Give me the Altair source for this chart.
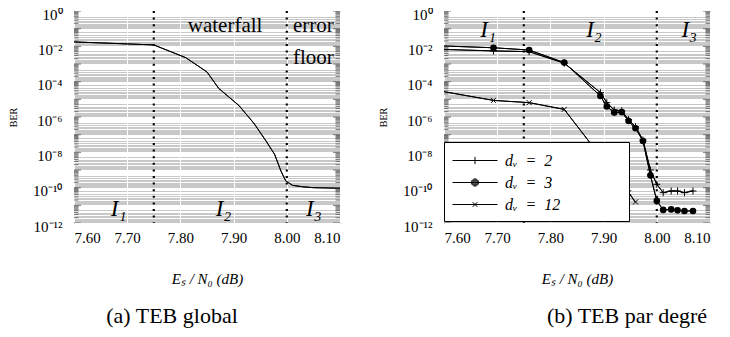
import altair as alt
import pandas as pd

SERIF = "Liberation Serif"

# ---------------- data ----------------
# (a) TEB global
glob_x = [7.60, 7.75, 7.81, 7.85, 7.872, 7.91, 7.938, 7.961, 7.977, 7.989, 7.998, 8.011, 8.03, 8.05, 8.10]
glob_ber = [1.78e-2, 1.20e-2, 2.29e-3, 3.55e-4, 4.17e-5, 4.47e-6, 4.47e-7, 4.37e-8, 7.76e-9,
            8.71e-10, 2.40e-10, 1.35e-10, 1.12e-10, 1.00e-10, 9.3e-11]

# (b) TEB par degré
dv_x = [7.56, 7.693, 7.760, 7.826, 7.894, 7.906, 7.920, 7.934, 7.947, 7.960, 7.974, 7.988,
        8.000, 8.012, 8.027, 8.039, 8.052, 8.068]
dv3_ber = [1.15e-2, 8.3e-3, 6.2e-3, 1.2e-3, 1.55e-5, 3.9e-6, 1.78e-6, 1.9e-6, 5.9e-7, 2.3e-7,
           4.4e-8, 5.0e-10, 1.78e-11, 5.5e-12, 5.9e-12, 5.2e-12, 4.8e-12, 4.8e-12]
dv2_ber = [7.2e-3, 5.5e-3, 5.0e-3, 1.12e-3, 2.4e-5, 6.5e-6, 2.5e-6, 2.24e-6, 7.1e-7, 2.8e-7,
           5.0e-8, 1.0e-9, 1.55e-10, 5.2e-11, 6.5e-11, 6.5e-11, 5.2e-11, 6.5e-11]
dv12_x = [7.56, 7.693, 7.760, 7.826, 7.947, 7.960]
dv12_ber = [4.4e-5, 8.7e-6, 6.5e-6, 2.7e-6, 5.2e-11, 1.55e-11]

series_names = ["dᵥ\u2002=\u20022", "dᵥ\u2002=\u20023", "dᵥ\u2002=\u200212"]
legend_labels = [s + "\u2800" * 5 for s in series_names]
region_bounds = [7.75, 8.00]

x_ticks = [7.60, 7.70, 7.80, 7.90, 8.00, 8.10]
y_grid = [1.0] + [m * 10.0 ** k for k in range(-1, -13, -1) for m in range(9, 0, -1)]
y_major = [10.0 ** k for k in range(0, -13, -1)]
y_minor = [m * 10.0 ** k for k in range(-1, -13, -1) for m in range(2, 10)]
edge_x = [7.6, 8.1]

# annotations
glob_center_text = pd.DataFrame({"x": [7.884], "y": [0.141], "t": ["waterfall"]})
glob_left_text = pd.DataFrame({"x": [8.0115, 8.0115], "y": [0.141, 2.3e-3], "t": ["error", "floor"]})
glob_regions = pd.DataFrame({"x": [7.684, 7.881, 8.051], "y": [6.6e-12, 6.6e-12, 6.6e-12],
                             "t": ["I₁", "I₂", "I₃"]})
dv_regions = pd.DataFrame({"x": [7.683, 7.882, 8.061], "y": [0.085, 0.085, 0.085],
                           "t": ["I₁", "I₂", "I₃"]})

# ---------------- scales / axes ----------------
xs = alt.Scale(domain=[7.6, 8.1], nice=False, zero=False)
ys = alt.Scale(type="log", domain=[1e-12, 1], nice=False)

label_expr = (
    "abs(log(datum.value)/LN10 - round(log(datum.value)/LN10)) < 0.001 && "
    "round(log(datum.value)/LN10) % 2 == 0 ? "
    "(round(log(datum.value)/LN10) == 0 ? '10⁰' : '10⁻' + "
    "replace(replace(replace(replace(replace(replace(format(-round(log(datum.value)/LN10), 'd'),"
    "'1','¹'),'0','⁰'),'2','²'),'4','⁴'),'6','⁶'),'8','⁸')) : ''"
)

x_axis = alt.Axis(values=x_ticks, format=".2f", grid=True, gridColor="white", gridWidth=1,
                  ticks=False, domain=False, labelFont=SERIF, labelFontSize=15, labelPadding=7,
                  labelColor="black", title="Eₛ / N₀ (dB)", titleFont=SERIF, titleFontSize=15,
                  titleFontWeight="normal", titleFontStyle="italic", titlePadding=26,
                  titleColor="black")
y_axis = alt.Axis(values=y_grid, labelExpr=label_expr, labelOverlap=False, grid=True,
                  gridColor="white", gridWidth=1, ticks=False, domain=False, labelFont=SERIF,
                  labelFontSize=15, labelPadding=12, labelOffset=3, labelColor="black",
                  title="BER", titleFont=SERIF, titleFontSize=10, titleFontWeight="normal",
                  titlePadding=14, titleColor="black")


def rules():
    return alt.Chart(pd.DataFrame({"x": region_bounds})).mark_rule(
        color="black", strokeDash=[2, 4.6], strokeWidth=2.2
    ).encode(x=alt.X("x:Q", scale=xs, axis=x_axis))


def edge_ticks(values, length):
    df = pd.DataFrame([{"x": ex, "y": v} for ex in edge_x for v in values])
    return alt.Chart(df).mark_tick(color="#707070", thickness=1, size=length, orient="horizontal",
                                   clip=True, opacity=1).encode(
        x=alt.X("x:Q", scale=xs), y=alt.Y("y:Q", scale=ys))


def text_layer(df, align, size, style):
    return alt.Chart(df).mark_text(font=SERIF, fontSize=size, fontStyle=style, align=align,
                                   baseline="middle", color="black").encode(
        x=alt.X("x:Q", scale=xs), y=alt.Y("y:Q", scale=ys), text="t:N")


# ---------------- panel (a) ----------------
gdf = pd.DataFrame({"x": glob_x, "y": glob_ber})
g_line = alt.Chart(gdf).mark_line(color="black", strokeWidth=1, clip=True).encode(
    x=alt.X("x:Q", scale=xs, axis=x_axis), y=alt.Y("y:Q", scale=ys, axis=y_axis))

panel_a = alt.layer(
    g_line, edge_ticks(y_minor, 9), edge_ticks(y_major, 14), rules(), g_line,
    text_layer(glob_center_text, "center", 21, "normal"),
    text_layer(glob_left_text, "left", 21, "normal"),
    text_layer(glob_regions, "center", 23, "italic"),
).properties(
    width=266, height=212,
    title=alt.TitleParams("(a)  TEB global", orient="bottom", font=SERIF, fontSize=22,
                          fontWeight="normal", color="black", offset=20, dx=-35))

# ---------------- panel (b) ----------------
rows = []
for x, b in zip(dv_x, dv2_ber):
    rows.append({"x": x, "y": b, "s": series_names[0]})
for x, b in zip(dv_x, dv3_ber):
    rows.append({"x": x, "y": b, "s": series_names[1]})
for x, b in zip(dv12_x, dv12_ber):
    rows.append({"x": x, "y": b, "s": series_names[2]})
ddf = pd.DataFrame(rows)

enc = dict(x=alt.X("x:Q", scale=xs, axis=x_axis), y=alt.Y("y:Q", scale=ys, axis=y_axis))
d_line = alt.Chart(ddf).mark_line(color="black", strokeWidth=1, clip=True).encode(
    detail="s:N", **enc)
p2 = alt.Chart(ddf).transform_filter(alt.datum.s == series_names[0]).mark_point(
    shape="M-1,0H1M0,-1V1", size=49, stroke="black", strokeWidth=1, filled=False,
    opacity=1, clip=True).encode(**enc)
p3 = alt.Chart(ddf).transform_filter(alt.datum.s == series_names[1]).mark_point(
    shape="circle", size=44, color="black", filled=True, opacity=1, clip=True).encode(**enc)
p12 = alt.Chart(ddf).transform_filter(alt.datum.s == series_names[2]).mark_point(
    shape="M-1,-1L1,1M-1,1L1,-1", size=25, stroke="black", strokeWidth=1, filled=False,
    opacity=1, clip=True).encode(**enc)

# legend glyphs: symbol size 400 -> unit = 10 px; line from -1 to 3.5 units (45 px)
C = 1.25
rings = "".join(
    f"M{C - r:.3f},0A{r},{r} 0 1,0 {C + r:.3f},0A{r},{r} 0 1,0 {C - r:.3f},0"
    for r in (0.36, 0.27, 0.18, 0.09, 0.02))
legend_paths = [
    f"M-1,0H3.5M{C},-0.36V0.36",
    "M-1,0H3.5" + rings,
    f"M-1,0H3.5M{C - 0.24},-0.24L{C + 0.24},0.24M{C - 0.24},0.24L{C + 0.24},-0.24",
]
# legend-only layer: points placed outside the x domain and clipped away
leg_df = pd.DataFrame({"x": [7.0, 7.0, 7.0], "y": [1e-6, 1e-6, 1e-6], "s": legend_labels})
d_leg = alt.Chart(leg_df).mark_point(filled=False, stroke="black", strokeWidth=1, opacity=1,
                                     size=400, clip=True).encode(
    x=alt.X("x:Q", scale=xs), y=alt.Y("y:Q", scale=ys),
    shape=alt.Shape("s:N", scale=alt.Scale(domain=legend_labels, range=legend_paths),
                    legend=alt.Legend(orient="none", legendX=0, legendY=131, title=None,
                                      fillColor="white", strokeColor="black", padding=8,
                                      symbolSize=400, symbolStrokeColor="black",
                                      symbolStrokeWidth=1, labelFont=SERIF, labelFontSize=16,
                                      labelFontStyle="italic", labelColor="black",
                                      labelOffset=32, rowPadding=3, labelLimit=300)))

panel_b = alt.layer(
    d_line, edge_ticks(y_minor, 9), edge_ticks(y_major, 14), rules(), d_line, p2, p3, p12,
    text_layer(dv_regions, "center", 23, "italic"), d_leg
).properties(
    width=266, height=212,
    title=alt.TitleParams("(b)  TEB par degré", orient="bottom", font=SERIF, fontSize=22,
                          fontWeight="normal", color="black", offset=20, dx=50))

chart = alt.hconcat(panel_a, panel_b, spacing=104, bounds="flush").resolve_scale(
    shape="independent").resolve_legend(shape="independent").properties(
    padding={"top": -2, "left": 0, "right": 0, "bottom": 0}
).configure_view(fill="#c8c8c8", stroke="black", strokeWidth=1)

chart.save("out.html", embed_options={"renderer": "svg", "actions": False})
